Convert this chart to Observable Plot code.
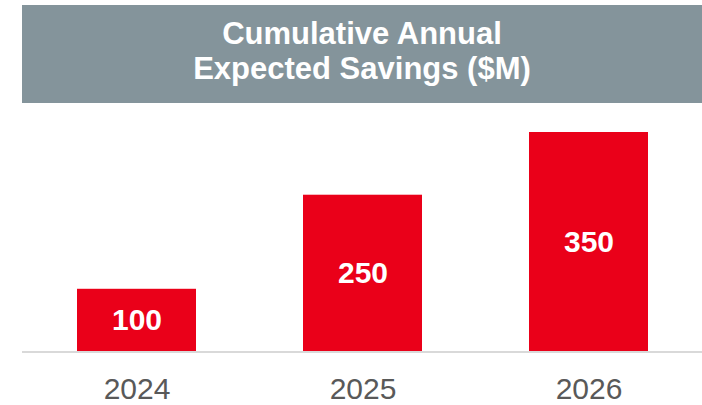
<!DOCTYPE html>
<html>
<head>
<meta charset="utf-8">
<script src="https://cdn.jsdelivr.net/npm/d3@7"></script>
<script src="https://cdn.jsdelivr.net/npm/@observablehq/plot@0.6"></script>
<style>
  html, body { margin: 0; padding: 0; background: #ffffff; }
  body { width: 702px; height: 405px; overflow: hidden; font-family: "Liberation Sans", Arial, sans-serif; }
  #title {
    margin: 5px 0 0 22px;
    width: 680px;
    height: 98px;
    box-sizing: border-box;
    padding-top: 10.5px;
    background: #84949b;
    color: #ffffff;
    font-weight: bold;
    font-size: 31px;
    line-height: 35px;
    text-align: center;
  }
  #chart svg { display: block; }
</style>
</head>
<body>
<div id="title">Cumulative Annual<br>Expected Savings ($M)</div>
<div id="chart"></div>
<script>
const years = ["2024", "2025", "2026"];
const savings = [100, 250, 350];
const yMax = 350;

const data = years.map((year, i) => ({ year, value: savings[i] }));

const chart = Plot.plot({
  width: 702,
  height: 302,
  marginLeft: 22,
  marginRight: 0,
  marginTop: 29,
  marginBottom: 53.5,
  style: {
    fontFamily: "'Liberation Sans', Arial, sans-serif",
    color: "#595959",
    background: "transparent"
  },
  x: {
    domain: years,
    paddingInner: 0.4736,
    paddingOuter: 0.2346,
    label: null
  },
  y: { domain: [0, yMax], axis: null },
  marks: [
    Plot.barY(data, { x: "year", y: "value", fill: "#ea0019" }),
    Plot.ruleY([0], { stroke: "#d9d9d9", strokeWidth: 2 }),
    Plot.text(data, {
      x: "year",
      y: d => d.value / 2,
      text: d => String(d.value),
      fill: "#ffffff",
      fontSize: 30,
      fontWeight: "bold"
    }),
    Plot.axisX({ tickSize: 0, tickPadding: 26, fontSize: 30, label: null })
  ]
});
document.getElementById("chart").appendChild(chart);
</script>
</body>
</html>
